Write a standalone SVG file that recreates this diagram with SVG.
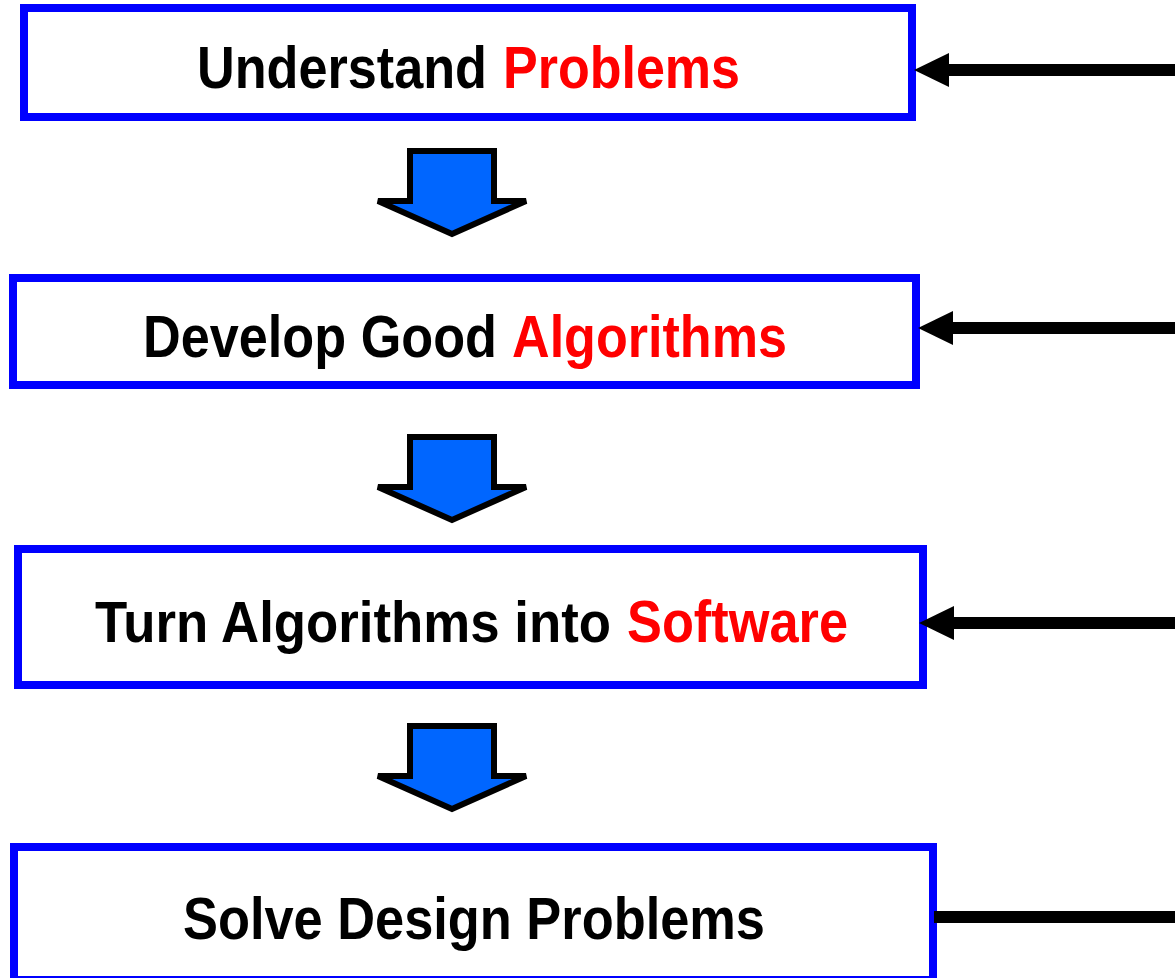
<svg xmlns="http://www.w3.org/2000/svg" width="1175" height="978" viewBox="0 0 1175 978">
  <style>
    .box { fill: #ffffff; stroke: #0000ff; stroke-width: 8; }
    .label { font-family: "Liberation Sans Narrow", "Arial Narrow", "Liberation Sans", sans-serif; font-weight: bold; font-size: 59px; fill: #000000; }
    .hl { fill: #ff0000; }
    .feed { stroke: #000000; stroke-width: 12; fill: none; }
    .flow { fill: #0066ff; stroke: #000000; stroke-width: 6; stroke-linejoin: miter; }
  </style>
  <defs>
    <marker id="head" markerUnits="userSpaceOnUse" markerWidth="36" markerHeight="36" refX="0" refY="0" viewBox="0 -18 36 36" orient="auto" overflow="visible">
      <path d="M0,-17 L35,0 L0,17 Z" fill="#000000"/>
    </marker>
    <!-- block arrow between stages, origin at top centre of the shaft -->
    <path id="down" d="M-42,0 H42 V50 H74 L0,83 L-74,50 H-42 Z"/>
  </defs>

  <rect width="1175" height="978" fill="#ffffff"/>

  <g id="stage-understand">
    <rect class="box" x="24" y="8" width="888" height="109"/>
    <text class="label" x="197" y="88" textLength="290" lengthAdjust="spacingAndGlyphs">Understand</text>
    <text class="label hl" x="503" y="88" textLength="237" lengthAdjust="spacingAndGlyphs">Problems</text>
  </g>

  <g id="stage-develop">
    <rect class="box" x="13" y="278" width="903" height="107"/>
    <text class="label" x="143" y="357" textLength="354" lengthAdjust="spacingAndGlyphs">Develop Good</text>
    <text class="label hl" x="512" y="357" textLength="275" lengthAdjust="spacingAndGlyphs">Algorithms</text>
  </g>

  <g id="stage-software">
    <rect class="box" x="18" y="549" width="905" height="136"/>
    <text class="label" x="95" y="642" textLength="516" lengthAdjust="spacingAndGlyphs" style="font-size:57px">Turn Algorithms into</text>
    <text class="label hl" x="627" y="642" textLength="221" lengthAdjust="spacingAndGlyphs">Software</text>
  </g>

  <g id="stage-solve">
    <rect class="box" x="14" y="847" width="919" height="133"/>
    <text class="label" x="183" y="939" textLength="582" lengthAdjust="spacingAndGlyphs">Solve Design Problems</text>
  </g>

  <g id="connectors">
    <use href="#down" class="flow" transform="translate(452,151)"/>
    <use href="#down" class="flow" transform="translate(452,437)"/>
    <use href="#down" class="flow" transform="translate(452,726)"/>

    <line class="feed" x1="1175" y1="70" x2="949" y2="70" marker-end="url(#head)"/>
    <line class="feed" x1="1175" y1="328" x2="953" y2="328" marker-end="url(#head)"/>
    <line class="feed" x1="1175" y1="623" x2="954" y2="623" marker-end="url(#head)"/>
    <line class="feed" x1="1175" y1="917" x2="934" y2="917"/>
  </g>
</svg>
